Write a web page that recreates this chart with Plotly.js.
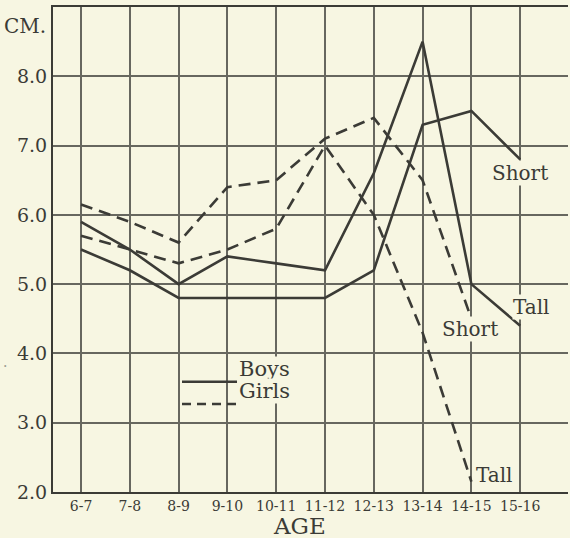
<!DOCTYPE html>
<html>
<head>
<meta charset="utf-8">
<script src="https://cdn.plot.ly/plotly-3.0.1.min.js"></script>
<style>
  html, body { margin: 0; padding: 0; background: #f7f6e2; }
  #chart { width: 570px; height: 538px; }
</style>
</head>
<body>
<div id="chart"></div>
<script>
// Age groups (x categories)
const ageGroups = ["6-7", "7-8", "8-9", "9-10", "10-11", "11-12", "12-13", "13-14", "14-15", "15-16"];
// Annual growth (cm)
const boysTall   = [5.9, 5.5, 5.0, 5.4, 5.3, 5.2, 6.6, 8.5, 5.0, 4.4];
const boysShort  = [5.5, 5.2, 4.8, 4.8, 4.8, 4.8, 5.2, 7.3, 7.5, 6.8];
const girlsShort = [6.15, 5.9, 5.6, 6.4, 6.5, 7.1, 7.4, 6.5, 4.5];
const girlsTall  = [5.7, 5.5, 5.3, 5.5, 5.8, 7.0, 6.0, 4.3, 2.15];
// Y tick values / labels
const yTicks = [2, 3, 4, 5, 6, 7, 8];
const yTickText = ["2.0", "3.0", "4.0", "5.0", "6.0", "7.0", "8.0"];

const ink = "#3b3b36";
const gridInk = "#67675f";
const bg = "#f7f6e2";
const serif = "DejaVu Serif, serif";
const idx = ageGroups.map((_, i) => i);

function trace(vals, dashed) {
  return {
    x: idx.slice(0, vals.length),
    y: vals,
    type: "scatter",
    mode: "lines",
    showlegend: false,
    line: { color: ink, width: 2.6, dash: dashed ? "12px,7px" : "solid" },
    hoverinfo: "skip"
  };
}

const data = [
  trace(boysTall, false),
  trace(boysShort, false),
  trace(girlsShort, true),
  trace(girlsTall, true)
];

function label(text, x, y, size) {
  return {
    text: text, x: x, y: y, xref: "x", yref: "y",
    showarrow: false, bgcolor: bg, borderpad: 0,
    font: { family: serif, size: size || 20, color: ink }
  };
}

const layout = {
  width: 570,
  height: 538,
  margin: { l: 53, r: 2, t: 7, b: 46 },
  paper_bgcolor: bg,
  plot_bgcolor: bg,
  showlegend: false,
  xaxis: {
    range: [-0.574, 9.98],
    tickvals: idx,
    ticktext: ageGroups,
    showgrid: true,
    gridcolor: gridInk,
    gridwidth: 2,
    zeroline: false,
    showline: true,
    mirror: true,
    linecolor: ink,
    linewidth: 2,
    ticks: "",
    tickfont: { family: serif, size: 14, color: ink }
  },
  yaxis: {
    range: [2, 9],
    tickvals: yTicks,
    ticktext: yTickText,
    showgrid: true,
    gridcolor: gridInk,
    gridwidth: 2,
    zeroline: false,
    showline: true,
    linecolor: ink,
    linewidth: 2,
    ticks: "",
    tickfont: { family: serif, size: 19, color: ink }
  },
  shapes: [
    { type: "line", xref: "paper", yref: "paper", x0: 0.2505, x1: 0.3573, y0: 0.2274, y1: 0.2274,
      line: { color: ink, width: 2.4 } },
    { type: "line", xref: "paper", yref: "paper", x0: 0.2505, x1: 0.3573, y0: 0.1814, y1: 0.1814,
      line: { color: ink, width: 2.4, dash: "9px,6px" } }
  ],
  annotations: [
    label("Short", 9.0, 6.61),
    label("Tall", 9.24, 4.67),
    label("Short", 7.97, 4.35),
    label("Tall", 8.48, 2.245),
    { text: "Boys", xref: "paper", yref: "paper", x: 0.3592, y: 0.2274, xanchor: "left",
      showarrow: false, bgcolor: bg, borderpad: 0, font: { family: serif, size: 21, color: ink } },
    { text: "Girls", xref: "paper", yref: "paper", x: 0.3592, y: 0.1814, xanchor: "left",
      showarrow: false, bgcolor: bg, borderpad: 0, font: { family: serif, size: 21, color: ink } },
    { text: "CM.", xref: "paper", yref: "y", x: 0, y: 8.73, xanchor: "right", xshift: -5,
      showarrow: false, font: { family: serif, size: 20, color: ink } },
    { text: "AGE", xref: "paper", yref: "paper", x: 0.478, y: 0, yanchor: "middle", yshift: -34,
      showarrow: false, font: { family: serif, size: 23, color: ink } },
    { text: ".", xref: "paper", yref: "y", x: 0, y: 3.88, xanchor: "center", xshift: -48,
      showarrow: false, font: { family: serif, size: 14, color: "#9a9a90" } }
  ]
};

Plotly.newPlot("chart", data, layout, { staticPlot: true, displayModeBar: false });
</script>
</body>
</html>
